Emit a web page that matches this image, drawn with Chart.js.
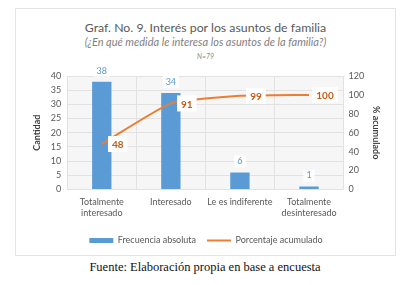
<!DOCTYPE html>
<html>
<head>
<meta charset="utf-8">
<script src="https://cdn.jsdelivr.net/npm/chart.js@4.4.1/dist/chart.umd.min.js"></script>
<style>
  body { margin: 0; background: #fff; width: 416px; height: 285px; position: relative; overflow: hidden; }
  #box { position: absolute; left: 15px; top: 8px; width: 379px; height: 246px; border: 1px solid #e4e4e4; }
  .hd { position: absolute; left: 15px; width: 381px; text-align: center; color: #595959; font-family: Lato, sans-serif; }
  #t1 { top: 20px; font-size: 12.3px; }
  #t2 { top: 35px; font-size: 11px; font-style: italic; color: #7f7f7f; }
  #t3 { top: 52px; font-size: 7px; font-style: italic; color: #8c8c8c; }
  #wrap { position: absolute; left: 0; top: 0; width: 416px; height: 255px; }
  #foot { position: absolute; left: 0; top: 260px; width: 410px; text-align: center; font-family: "Liberation Serif", serif; font-size: 12.5px; color: #111; }
</style>
</head>
<body>
<div id="box"></div>
<div class="hd" id="t1">Graf. No. 9. Interés por los asuntos de familia</div>
<div class="hd" id="t2">(¿En qué medida le interesa los asuntos de la familia?)</div>
<div class="hd" id="t3">N=79</div>
<div id="wrap"><canvas id="c"></canvas></div>
<div id="foot">Fuente: Elaboración propia en base a encuesta</div>
<script>
const categories = [['Totalmente', 'interesado'], 'Interesado', 'Le es indiferente', ['Totalmente', 'desinteresado']];
const frecuencia = [38, 34, 6, 1];
const acumulado = [48, 91, 99, 100];

const blue = '#5b9bd5';
const orange = '#ed7d31';

// light grey plot background
const plotBg = {
  id: 'plotBg',
  beforeDraw(chart) {
    const a = chart.chartArea, ctx = chart.ctx;
    ctx.save();
    ctx.fillStyle = '#f6f6f6';
    ctx.fillRect(a.left, a.top, a.right - a.left, a.bottom - a.top);
    ctx.restore();
  }
};

// value labels in small white boxes
const valueLabels = {
  id: 'valueLabels',
  afterDatasetsDraw(chart) {
    const ctx = chart.ctx;
    ctx.save();
    ctx.textAlign = 'center';
    ctx.textBaseline = 'middle';

    ctx.font = '9px Lato';
    chart.getDatasetMeta(0).data.forEach((bar, i) => {
      const txt = String(frecuencia[i]);
      const w = ctx.measureText(txt).width + 6;
      const y = bar.y - 11;
      ctx.fillStyle = 'rgba(255,255,255,0.9)';
      ctx.fillRect(bar.x - w / 2, y - 6, w, 12);
      ctx.fillStyle = blue;
      ctx.fillText(txt, bar.x, y);
    });

    ctx.font = 'bold 10px Lato';
    chart.getDatasetMeta(1).data.forEach((pt, i) => {
      const txt = String(acumulado[i]);
      const w = ctx.measureText(txt).width + 8;
      const x = pt.x + 16;
      ctx.fillStyle = '#fff';
      ctx.fillRect(x - w / 2, pt.y - 8, w, 16);
      ctx.fillStyle = '#c55a11';
      ctx.fillText(txt, x, pt.y + 1);
    });
    ctx.restore();
  }
};

new Chart(document.getElementById('c'), {
  type: 'bar',
  data: {
    labels: categories,
    datasets: [
      {
        label: 'Frecuencia absoluta',
        data: frecuencia,
        backgroundColor: blue,
        yAxisID: 'y',
        order: 2,
        barPercentage: 0.56,
        categoryPercentage: 0.5,
        pointStyle: 'rect'
      },
      {
        type: 'line',
        label: 'Porcentaje acumulado',
        data: acumulado,
        borderColor: orange,
        backgroundColor: orange,
        borderWidth: 2,
        pointRadius: 0,
        tension: 0.15,
        yAxisID: 'y1',
        order: 1,
        pointStyle: 'line'
      }
    ]
  },
  options: {
    responsive: true,
    maintainAspectRatio: false,
    animation: false,
    layout: { padding: { left: 30, right: 34, top: 76, bottom: 0 } },
    plugins: {
      legend: {
        position: 'bottom',
        labels: {
          usePointStyle: true,
          pointStyleWidth: 24,
          boxHeight: 5,
          padding: 11,
          color: '#595959',
          font: { family: 'Lato', size: 9 },
          sort: (a, b) => a.datasetIndex - b.datasetIndex
        }
      },
      tooltip: { enabled: false }
    },
    scales: {
      x: {
        grid: { color: '#e2e2e2', drawTicks: false },
        border: { display: false },
        ticks: { autoSkip: false, maxRotation: 0, minRotation: 0, color: '#595959', font: { family: 'Lato', size: 9 }, padding: 7 }
      },
      y: {
        position: 'left',
        min: 0, max: 40,
        ticks: { stepSize: 5, autoSkip: false, color: '#595959', font: { family: 'Lato', size: 9 }, padding: 6 },
        grid: { color: '#e2e2e2', drawTicks: false },
        border: { display: false },
        title: { display: true, text: 'Cantidad', color: '#404040', font: { family: 'Lato', size: 9, weight: 'bold' }, padding: 2 }
      },
      y1: {
        position: 'right',
        min: 0, max: 120,
        ticks: { stepSize: 20, autoSkip: false, color: '#595959', font: { family: 'Lato', size: 9 }, padding: 5 },
        grid: { display: false, drawTicks: false },
        border: { display: false },
        title: { display: true, text: '% acumulado', color: '#404040', font: { family: 'Lato', size: 9, weight: 'bold' }, padding: 1 }
      }
    }
  },
  plugins: [plotBg, valueLabels]
});
</script>
</body>
</html>
